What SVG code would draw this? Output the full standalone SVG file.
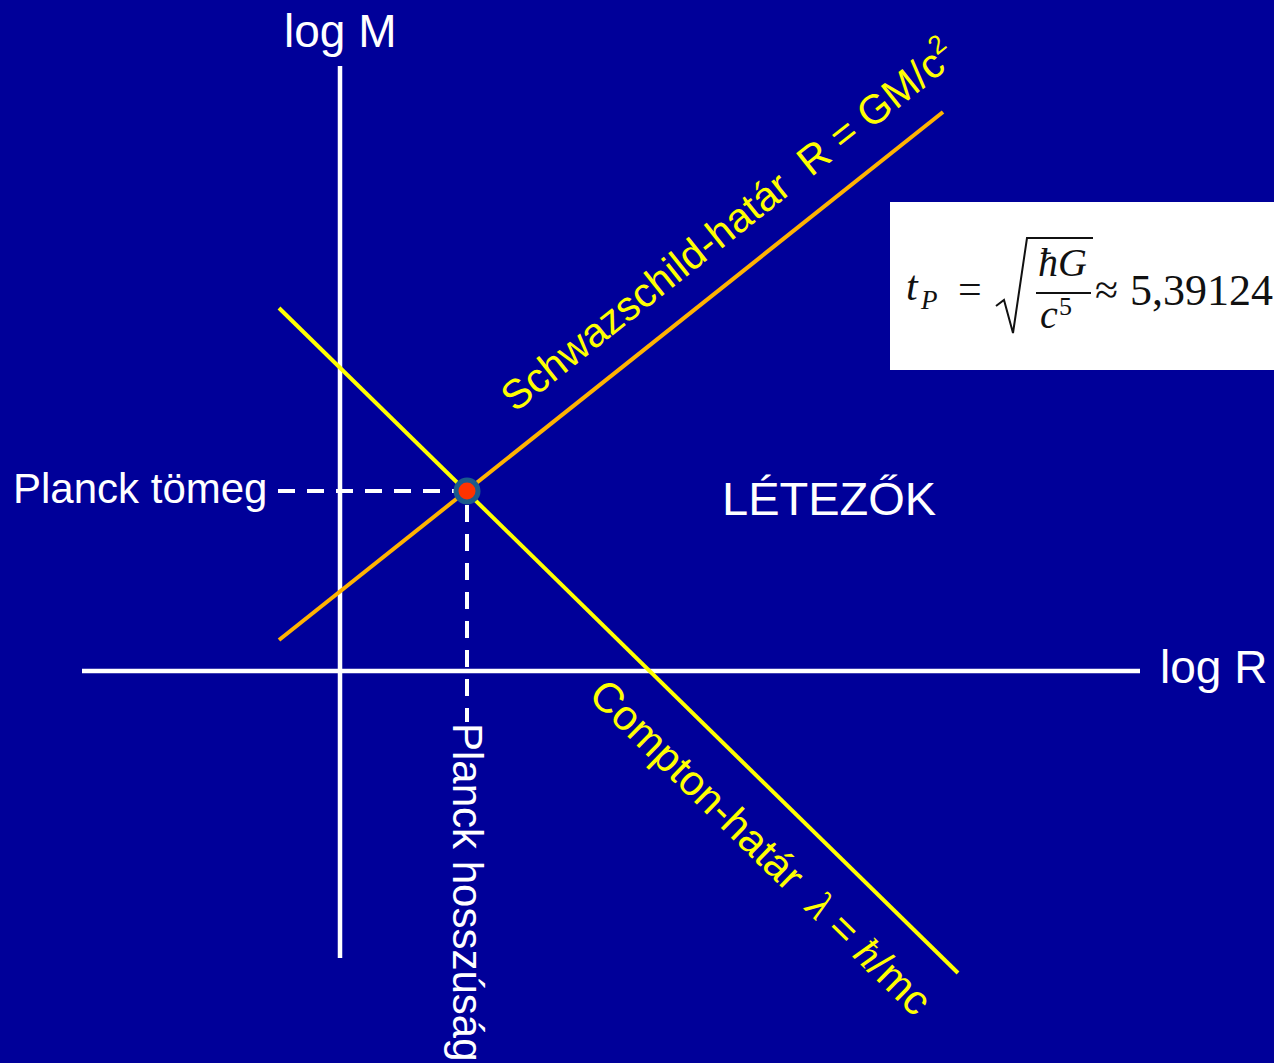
<svg xmlns="http://www.w3.org/2000/svg" width="1274" height="1063" viewBox="0 0 1274 1063">
<style>
.ax{stroke:#fff;stroke-width:4.5;fill:none}
.dash{stroke:#fff;stroke-width:4;stroke-dasharray:17 12;fill:none}
.w{fill:#fff;font-family:"Liberation Sans",Arial,sans-serif}
.y{fill:#ff0;font-family:"Liberation Sans",Arial,sans-serif}
.m{fill:#111;font-family:"Liberation Serif","Times New Roman",serif}
</style>
<rect width="1274" height="1063" fill="#000099"/>
<g id="connectors">
<line class="ax" x1="340" y1="66" x2="340" y2="958"/>
<line class="ax" x1="82" y1="671" x2="1140" y2="671"/>
<line x1="279" y1="640" x2="943" y2="112" stroke="#ffb300" stroke-width="4"/>
<line x1="279" y1="308" x2="958" y2="973" stroke="#ffff00" stroke-width="4"/>
<line class="dash" x1="278" y1="491" x2="455" y2="491"/>
<line class="dash" x1="467" y1="505" x2="467" y2="722"/>
</g>
<g id="planck-point">
<circle cx="467" cy="491" r="13.5" fill="#1a5a8c"/>
<circle cx="467" cy="491" r="8.5" fill="#ff3300"/>
</g>
<g id="axis-labels">
<text class="w" x="284" y="47" font-size="46">log M</text>
<text class="w" x="1160" y="683" font-size="46">log R</text>
</g>
<g id="planck-mass"><text class="w" x="13" y="503" font-size="42">Planck tömeg</text></g>
<g id="planck-length"><text class="w" font-size="42" transform="translate(453 723) rotate(90)">Planck hosszúság</text></g>
<g id="letezok"><text class="w" x="722" y="515" font-size="47">LÉTEZŐK</text></g>
<g id="schwarzschild"><text class="y" font-size="41" transform="translate(515 413) rotate(-38.5)" xml:space="preserve">Schwazschild-határ  R = GM/c<tspan font-size="26" dy="-17">2</tspan></text></g>
<g id="compton"><text class="y" font-size="42" transform="translate(587 697) rotate(44.4)" xml:space="preserve">Compton-határ  <tspan font-family="'Liberation Serif',serif" font-style="italic">λ</tspan> = <tspan font-family="'Liberation Serif',serif" font-style="italic">ħ</tspan>/mc</text></g>
<g id="formula">
<rect x="890" y="202" width="390" height="168" fill="#fff"/>
<text class="m" x="906" y="300" font-size="42" font-style="italic">t</text>
<text class="m" x="921" y="309" font-size="27" font-style="italic">P</text>
<text class="m" x="958" y="303" font-size="42">=</text>
<path d="M996 306 L1004 300 L1013 333 L1027 238 L1093 238" fill="none" stroke="#111" stroke-width="2"/>
<text class="m" x="1038" y="276" font-size="40" font-style="italic">ħG</text>
<line x1="1036" y1="293" x2="1091" y2="293" stroke="#111" stroke-width="2"/>
<text class="m" x="1040" y="328" font-size="40" font-style="italic">c</text>
<text class="m" x="1059" y="315" font-size="26">5</text>
<text class="m" x="1095" y="304" font-size="42">≈</text>
<text class="m" x="1130" y="305" font-size="44">5,39124</text>
</g>
</svg>
